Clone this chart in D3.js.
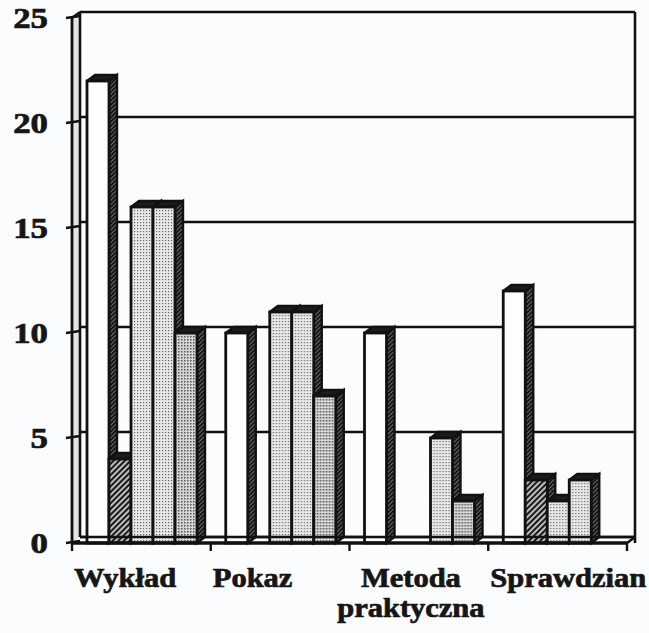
<!DOCTYPE html>
<html>
<head>
<meta charset="utf-8">
<script src="https://cdn.jsdelivr.net/npm/d3@7"></script>
<style>
  body { margin: 0; background: #fbfcfe; }
  svg { display: block; }
  text { font-weight: bold; fill: #161616; stroke: #161616; stroke-width: 0.7px; }
</style>
</head>
<body>
<svg id="chart" width="649" height="633"></svg>
<script>
// data
const categories = ["Wykład", "Pokaz", "Metoda praktyczna", "Sprawdzian"];
const seriesNames = ["s1", "s2", "s3", "s4", "s5"];
const s1 = [22, 10, 10, 12];
const s2 = [4, 0, 0, 3];
const s3 = [16, 11, 0, 2];
const s4 = [16, 11, 5, 3];
const s5 = [10, 7, 2, 0];
const yTicks = [0, 5, 10, 15, 20, 25];

const seriesValues = [s1, s2, s3, s4, s5];
const seriesFill = ["#fdfdfd", "url(#hatch)", "url(#dotsLight)", "url(#dotsLight)", "url(#dotsMid)"];
const fontFam = "Liberation Serif";

const svg = d3.select("#chart");

// 3d depth offset of the back wall
const dx = 8, dy = 6;

const x0 = d3.scaleBand().domain(categories).range([72, 627]);
const x1 = d3.scaleBand().domain(seriesNames).range([15, 125]);
const y = d3.scaleLinear().domain([0, 25]).range([543, 18]);

// patterns for the old print look
const defs = svg.append("defs");
const hatch = defs.append("pattern").attr("id", "hatch")
  .attr("patternUnits", "userSpaceOnUse").attr("width", 4).attr("height", 4)
  .attr("patternTransform", "rotate(45)");
hatch.append("rect").attr("width", 4).attr("height", 4).attr("fill", "#bdbdbd");
hatch.append("rect").attr("width", 2).attr("height", 4).attr("fill", "#1a1a1a");

const dotsLight = defs.append("pattern").attr("id", "dotsLight")
  .attr("patternUnits", "userSpaceOnUse").attr("width", 3).attr("height", 3);
dotsLight.append("rect").attr("width", 3).attr("height", 3).attr("fill", "#e8e8e8");
dotsLight.append("rect").attr("width", 1.2).attr("height", 1.2).attr("fill", "#666");

const dotsMid = defs.append("pattern").attr("id", "dotsMid")
  .attr("patternUnits", "userSpaceOnUse").attr("width", 3).attr("height", 3);
dotsMid.append("rect").attr("width", 3).attr("height", 3).attr("fill", "#d6d6d6");
dotsMid.append("rect").attr("width", 1.5).attr("height", 1.5).attr("fill", "#555");

const sideHatch = defs.append("pattern").attr("id", "sideHatch")
  .attr("patternUnits", "userSpaceOnUse").attr("width", 3).attr("height", 3)
  .attr("patternTransform", "rotate(45)");
sideHatch.append("rect").attr("width", 3).attr("height", 3).attr("fill", "#6a6a6a");
sideHatch.append("rect").attr("width", 1.8).attr("height", 3).attr("fill", "#0d0d0d");

const xL = x0.range()[0], xR = x0.range()[1];
const line = (x1_, y1_, x2_, y2_, w) => svg.append("line")
  .attr("x1", x1_).attr("y1", y1_).attr("x2", x2_).attr("y2", y2_)
  .attr("stroke", "#111").attr("stroke-width", w);

// back wall gridlines
svg.append("g").selectAll("line")
  .data(yTicks)
  .join("line")
  .attr("x1", xL + dx).attr("x2", xR + dx)
  .attr("y1", (d) => y(d) - dy).attr("y2", (d) => y(d) - dy)
  .attr("stroke", "#111").attr("stroke-width", 2.6);

// left wall (shaded strip) + right edge
svg.append("polygon")
  .attr("points", [[xL, y(0)], [xL, y(25)], [xL + dx, y(25) - dy], [xL + dx, y(0) - dy]].join(" "))
  .attr("fill", "#e4e4e4");
line(xL, y(0), xL, y(25), 2.8);
line(xL + dx, y(0) - dy, xL + dx, y(25) - dy, 2.6);
line(xL, y(25), xL + dx, y(25) - dy, 2.4);
line(xR + dx, y(25) - dy, xR + dx, y(0), 2.6);

// y ticks and labels
svg.append("g").selectAll("line")
  .data(yTicks)
  .join("line")
  .attr("x1", xL - 6).attr("x2", xL + dx)
  .attr("y1", (d) => y(d)).attr("y2", (d) => y(d) - 2)
  .attr("stroke", "#111").attr("stroke-width", 2.4);

svg.append("g").selectAll("text")
  .data(yTicks)
  .join("text")
  .attr("font-family", fontFam)
  .attr("text-anchor", "end")
  .attr("dominant-baseline", "central")
  .attr("font-size", 29)
  .attr("transform", (d) => `translate(48,${y(d)}) scale(1.2,1)`)
  .text((d) => d);

// bars, drawn slot by slot so the next front hides the previous side
const bars = [];
categories.forEach((c, i) => {
  seriesNames.forEach((s, j) => {
    bars.push({ cat: c, ser: s, value: seriesValues[j][i], fill: seriesFill[j] });
  });
});

const barG = svg.append("g")
  .selectAll("g")
  .data(bars.filter((d) => d.value > 0))
  .join((enter) => {
    let g = enter.append("g")
      .attr("transform", (d) => `translate(${x0(d.cat) + x1(d.ser)},0)`);
    const w = x1.bandwidth();

    // side face
    g.append("polygon")
      .attr("points", (d) => [[w, y(d.value)], [w + dx, y(d.value) - dy], [w + dx, y(0) - dy], [w, y(0)]].join(" "))
      .attr("fill", "url(#sideHatch)")
      .attr("stroke", "#111").attr("stroke-width", 2.4);

    // top face
    g.append("polygon")
      .attr("points", (d) => [[0, y(d.value)], [dx, y(d.value) - dy], [w + dx, y(d.value) - dy], [w, y(d.value)]].join(" "))
      .attr("fill", "#1c1c1c")
      .attr("stroke", "#111").attr("stroke-width", 2.4).attr("stroke-linejoin", "round");

    // front
    g.append("rect")
      .attr("x", 0).attr("y", (d) => y(d.value))
      .attr("width", w).attr("height", (d) => y(0) - y(d.value))
      .attr("fill", (d) => d.fill)
      .attr("stroke", "#111").attr("stroke-width", 2.8);
    return g;
  });

// floor / x axis
line(xL, y(0), xR, y(0), 3.6);
line(xL + dx, y(0) - dy, xR + dx, y(0) - dy, 2.6);
line(xR, y(0), xR + dx, y(0) - dy, 2.6);

const xTicks = categories.map((c) => x0(c)).concat([xR]);
svg.append("g").selectAll("line")
  .data(xTicks)
  .join("line")
  .attr("x1", (d) => d).attr("x2", (d) => d)
  .attr("y1", y(0)).attr("y2", y(0) + 8)
  .attr("stroke", "#111").attr("stroke-width", 2.4);

// category labels
const labels = svg.append("g").selectAll("text")
  .data(categories)
  .join("text")
  .attr("font-family", fontFam)
  .attr("font-size", 27)
  .attr("text-anchor", (d) => (d.includes(" ") ? "middle" : "start"))
  .attr("transform", (d) => {
    const xx = d.includes(" ") ? x0(d) + x0.bandwidth() / 2 - 8 : x0(d) + 2;
    return `translate(${xx},587) scale(1.13,1)`;
  });

labels.each(function (d) {
  const parts = d.split(" ");
  d3.select(this).selectAll("tspan")
    .data(parts)
    .join("tspan")
    .attr("x", 0)
    .attr("dy", (p, k) => (k === 0 ? 0 : 30))
    .text((p) => p);
});
</script>
</body>
</html>
